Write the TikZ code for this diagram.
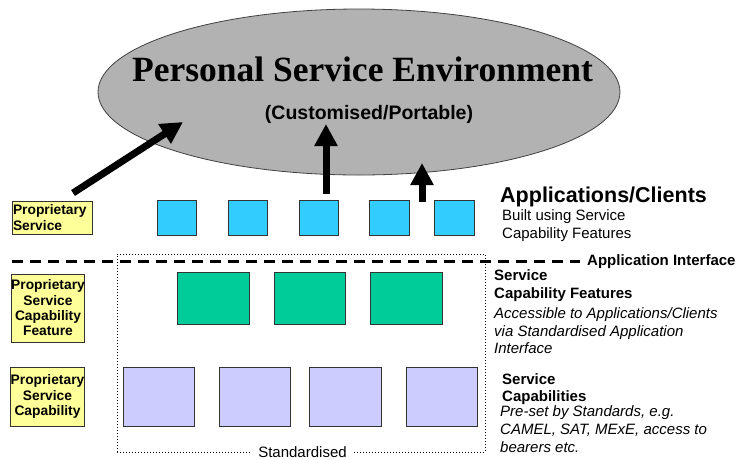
\documentclass[tikz,border=0pt]{standalone}
\usepackage{fontspec}
\setmainfont{Liberation Sans}
\newfontfamily\titlefont{Liberation Serif}
\usetikzlibrary{shapes.geometric,arrows.meta}
\definecolor{appblue}{HTML}{33CCFF}
\definecolor{featgreen}{HTML}{00CC99}
\definecolor{caplav}{HTML}{CCCCFF}
\definecolor{propyellow}{HTML}{FFFF99}
\definecolor{psegray}{HTML}{B2B2B2}
\begin{document}
\begin{tikzpicture}[x=1pt,y=-1pt,
  box/.style={draw=black!80, line width=0.8pt, inner sep=0pt, outer sep=0pt},
  appbox/.style={box, fill=appblue, minimum width=39.5pt, minimum height=35pt},
  featbox/.style={box, fill=featgreen, minimum width=72pt, minimum height=52pt},
  capbox/.style={box, fill=caplav, minimum width=71pt, minimum height=59pt},
  propbox/.style={box, fill=propyellow, align=center, font=\bfseries\fontsize{13.8}{15.3}\selectfont},
  bigarrow/.style={line width=7pt, -{Triangle[length=22pt,width=22pt]}},
  txt/.style={anchor=base west, inner sep=0pt, font=\fontsize{15}{18}\selectfont},
  btxt/.style={txt, font=\bfseries\fontsize{15}{18}\selectfont},
  itxt/.style={txt, font=\itshape\fontsize{15}{18}\selectfont},
  ifline/.style={line width=3pt, dash pattern=on 11pt off 7pt},
  stdline/.style={line width=1pt, dash pattern=on 1pt off 2pt}
]
\useasboundingbox (0,0) rectangle (737,459);

% Personal Service Environment
\node[ellipse, draw=black!75, line width=0.8pt, fill=psegray, minimum width=522pt, minimum height=166pt, inner sep=0pt] (pse) at (359,92) {};
\node[anchor=base, inner sep=0pt, font=\titlefont\bfseries\fontsize{35.5}{40}\selectfont] (title) at (362.5,81) {Personal Service Environment};
\node[anchor=base, inner sep=0pt, font=\bfseries\fontsize{19.5}{22}\selectfont] (sub) at (369,119) {(Customised/Portable)};

% Standardised region
\node[stdline, draw=black, minimum width=368pt, minimum height=198pt, inner sep=0pt] (std) at (301,353) {};
\node[anchor=base, fill=white, inner xsep=6pt, inner ysep=0pt, font=\fontsize{15}{18}\selectfont] (stdlabel) at (302.5,457) {Standardised};

% Application interface line
\coordinate (ifl) at (12,261);
\coordinate (ifr) at (580,261);
\draw[ifline] (ifl) -- (ifr);

% Applications/Clients
\node[appbox] (app1) at (177,217.5) {};
\node[appbox] (app2) at (248,217.5) {};
\node[appbox] (app3) at (319,217.5) {};
\node[appbox] (app4) at (389.5,217.5) {};
\node[appbox] (app5) at (454.5,217.5) {};

% Service capability features
\node[featbox] (feat1) at (213,298) {};
\node[featbox, minimum width=71pt] (feat2) at (309.5,298) {};
\node[featbox] (feat3) at (406,298) {};

% Service capabilities
\node[capbox] (cap1) at (158.5,396.5) {};
\node[capbox] (cap2) at (254.5,396.5) {};
\node[capbox, minimum width=72pt] (cap3) at (345,396.5) {};
\node[capbox] (cap4) at (441.5,396.5) {};

% Proprietary boxes
\node[propbox, align=left, text width=78pt, inner xsep=1pt, minimum height=33pt] (prop1) at (52,217.5) {Proprietary\\Service};
\node[propbox, minimum width=72pt, minimum height=68pt] (prop2) at (48,308) {Proprietary\\Service\\Capability\\Feature};
\node[propbox, minimum width=73pt, minimum height=59pt] (prop3) at (47.5,396.5) {Proprietary\\Service\\Capability};

% Arrows
\coordinate (a1s) at (73,193);
\coordinate (a1t) at (183,122);
\coordinate (a2s) at (326,194);
\coordinate (a2t) at (326,124);
\coordinate (a3s) at (422,202);
\coordinate (a3t) at (422,163);
\draw[bigarrow] (a1s) -- (a1t);
\draw[bigarrow] (a2s) -- (a2t);
\draw[bigarrow] (a3s) -- (a3t);

% Right-hand texts
\node[txt, font=\bfseries\fontsize{21.5}{24}\selectfont] (appt) at (500,202) {Applications/Clients};
\node[txt] (appd1) at (502,220) {Built using Service};
\node[txt] (appd2) at (502,238) {Capability Features};
\node[btxt] (ift) at (587,265) {Application Interface};
\node[btxt] (sft1) at (494,280) {Service};
\node[btxt] (sft2) at (494,298) {Capability Features};
\node[itxt] (sfd1) at (494,318) {Accessible to Applications/Clients};
\node[itxt] (sfd2) at (494,336) {via Standardised Application};
\node[itxt] (sfd3) at (494,353) {Interface};
\node[btxt] (sct1) at (502,384) {Service};
\node[btxt] (sct2) at (502,401) {Capabilities};
\node[itxt] (scd1) at (500,416) {Pre-set by Standards, e.g.};
\node[itxt] (scd2) at (500,434) {CAMEL, SAT, MExE, access to};
\node[itxt] (scd3) at (500,452) {bearers etc.};
\end{tikzpicture}
\end{document}
